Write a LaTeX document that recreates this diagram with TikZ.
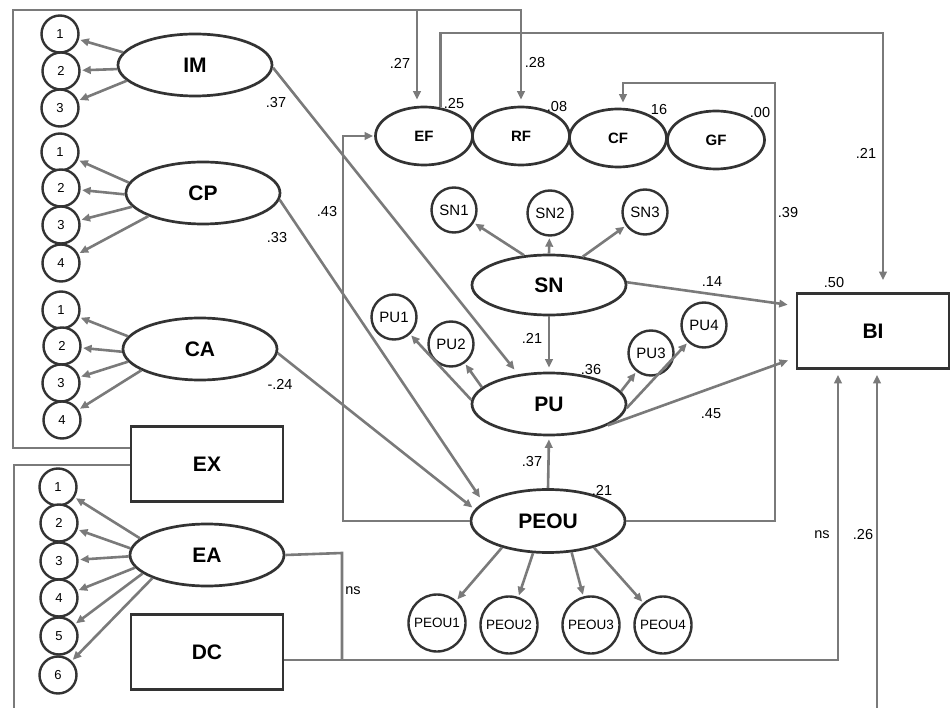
\documentclass[tikz,border=0pt]{standalone}
\usepackage{fontspec}
\setmainfont{Liberation Sans}
\usetikzlibrary{arrows.meta,shapes.geometric,calc}
\definecolor{edgegray}{HTML}{7A7A7A}
\definecolor{nodegray}{HTML}{333333}

\begin{document}
\begin{tikzpicture}[x=1pt,y=-1pt,
  lat/.style={ellipse,draw=nodegray,fill=white,line width=2.7pt,inner sep=0,
    minimum width=154pt,minimum height=62pt,font=\bfseries\fontsize{21}{23}\selectfont},
  fac/.style={ellipse,draw=nodegray,line width=2.7pt,inner sep=0,
    minimum width=97pt,minimum height=58pt,font=\bfseries\fontsize{15}{17}\selectfont},
  obs/.style={rectangle,draw=nodegray,fill=white,line width=2.7pt,inner sep=0,
    minimum width=152pt,minimum height=75pt,font=\bfseries\fontsize{21}{23}\selectfont},
  item/.style={circle,draw=nodegray,fill=white,line width=2.4pt,inner sep=0,
    minimum size=37pt,font=\fontsize{13}{15}\selectfont},
  ind/.style={circle,draw=nodegray,fill=white,line width=2.4pt,inner sep=0,
    minimum size=45pt,font=\fontsize{15}{17}\selectfont},
  pind/.style={circle,draw=nodegray,fill=white,line width=2.4pt,inner sep=0,
    minimum size=57pt,font=\fontsize{13.5}{15}\selectfont},
  conn/.style={draw=edgegray,line width=2.6pt},
  arr/.style={conn,-{Triangle[length=8.5pt,width=7.5pt]},shorten >=3pt},
  lbl/.style={font=\fontsize{14.5}{16}\selectfont,inner sep=0},
]
\useasboundingbox (0,0) rectangle (950,708);

% ---------- latent constructs ----------
\node[lat] (IM) at (195,65) {IM};
\node[lat] (CP) at (203,193) {CP};
\node[lat] (CA) at (200,349) {CA};
\node[lat] (EA) at (207,555) {EA};
\node[lat,minimum height=60pt] (SN) at (549,285) {SN};
\node[lat] (PU) at (549,404) {PU};
\node[lat,minimum height=63pt] (PEOU) at (548,521) {PEOU};

% ---------- observed variables ----------
\node[obs] (EX) at (207,464) {EX};
\node[obs] (DC) at (207,652) {DC};
\node[obs] (BI) at (873,331) {BI};

% ---------- facilitating factors ----------
\node[fac] (EF) at (424,136) {EF};
\node[fac] (RF) at (521,136) {RF};
\node[fac] (CF) at (618,138) {CF};
\node[fac] (GF) at (716,140) {GF};

% ---------- indicator items ----------
\node[item] (im1) at (60,34) {1};
\node[item] (im2) at (61,71) {2};
\node[item] (im3) at (60,108) {3};

\node[item] (cp1) at (60,152) {1};
\node[item] (cp2) at (61,188) {2};
\node[item] (cp3) at (61,225) {3};
\node[item] (cp4) at (61,263) {4};

\node[item] (ca1) at (61,310) {1};
\node[item] (ca2) at (62,346) {2};
\node[item] (ca3) at (61,383) {3};
\node[item] (ca4) at (62,420) {4};

\node[item] (ea1) at (58,487) {1};
\node[item] (ea2) at (59,523) {2};
\node[item] (ea3) at (59,561) {3};
\node[item] (ea4) at (59,598) {4};
\node[item] (ea5) at (59,636) {5};
\node[item] (ea6) at (58,675) {6};

\node[ind] (sn1) at (454,210) {SN1};
\node[ind] (sn2) at (550,213) {SN2};
\node[ind] (sn3) at (645,212) {SN3};

\node[ind] (pu1) at (394,317) {PU1};
\node[ind] (pu2) at (451,344) {PU2};
\node[ind] (pu3) at (651,353) {PU3};
\node[ind] (pu4) at (704,325) {PU4};

\node[pind] (pe1) at (437,623) {PEOU1};
\node[pind] (pe2) at (509,625) {PEOU2};
\node[pind] (pe3) at (591,625) {PEOU3};
\node[pind] (pe4) at (663,625) {PEOU4};

% ---------- measurement arrows ----------
\begin{scope}[every path/.style={arr,shorten >=1.5pt}]
\draw (IM.170) -- (im1);
\draw (IM.183) -- (im2);
\draw (IM.193) -- (im3);
\draw (CP.172) -- (cp1);
\draw (CP.181) -- (cp2);
\draw (CP.191) -- (cp3);
\draw (CP.203) -- (cp4);
\draw (CA.170) -- (ca1);
\draw (CA.182) -- (ca2);
\draw (CA.190) -- (ca3);
\draw (CA.200) -- (ca4);
\draw (EA.166) -- (ea1);
\draw (EA.175) -- (ea2);
\draw (EA.181) -- (ea3);
\draw (EA.190) -- (ea4);
\draw (EA.196) -- (ea5);
\draw (EA.203) -- (ea6);
\draw (SN.130) -- (sn1);
\draw (SN.north) -- (sn2);
\draw (SN.40) -- (sn3);
\draw (PU.177) -- (pu1);
\draw (PU.166) -- (pu2);
\draw (PU.10) -- (pu3);
\draw (PU.-3) -- (pu4);
\draw (PEOU.210) -- (pe1);
\draw (PEOU.245) -- (pe2);
\draw (PEOU.307) -- (pe3);
\draw (PEOU.330) -- (pe4);
\end{scope}

% ---------- structural paths ----------
\draw[arr,shorten >=6pt] (IM.-2) -- (PU.136);
\draw[arr,shorten >=6pt] (CP.-5) -- (PEOU.164);
\draw[arr,shorten >=3pt] (CA.-3) -- (PEOU.171);
\draw[arr,shorten >=4pt] (SN.south) -- (PU.north);
\draw[arr,shorten >=3pt] (PEOU.north) -- (PU.south);
\draw[arr,shorten >=8pt] (SN.2) -- (BI.162.5);
\draw[arr,shorten >=8pt] (PU.-20) -- (BI.199.6);

% EX to EF and RF over the top
\coordinate (exA) at (13,448);
\coordinate (exB) at (13,10);
\coordinate (efT) at (417,10);
\coordinate (rfT) at (521,10);
\draw[conn] (EX.west |- exA) -- (exA) -- (exB) -- (efT);
\draw[arr,shorten >=6pt] (efT) -- (rfT) -- (rfT |- RF.north);
\draw[arr,shorten >=6pt] (efT) -- (efT |- EF.north);

% EF to BI over the top
\coordinate (biT) at (883,33);
\draw[arr,shorten >=12pt] (EF.60) |- (biT) -- (biT |- BI.north);

% PEOU to EF on the left
\coordinate (efL) at (343,136);
\draw[arr,shorten >=1pt] (PEOU.west) -| (efL) -- (EF.west);

% PEOU to CF on the right
\coordinate (cfA) at (775,83);
\coordinate (cfB) at (623,83);
\draw[arr,shorten >=5pt] (PEOU.east) -| (cfA) -- (cfB) -- (cfB |- CF.north);

% DC and EA to BI
\coordinate (dcR) at (838,660);
\coordinate (eaR) at (342,553);
\draw[arr,shorten >=5pt] (DC.east |- dcR) -- (dcR) -- (dcR |- BI.south);
\draw[conn] (EA.east) -- (eaR) -- (eaR |- dcR);

% EX to BI along the bottom
\coordinate (exL) at (14,465);
\coordinate (exD) at (14,708);
\coordinate (biD) at (877,708);
\draw[conn] (EX.west |- exL) -- (exL) -- (exD);
\draw[arr,shorten >=5pt] (biD) -- (biD |- BI.south);

% ---------- coefficients ----------
\node[lbl] at (400,63) {.27};
\node[lbl] at (535,63) {.28};
\node[lbl] at (454,104) {.25};
\node[lbl] at (557,107) {.08};
\node[lbl] at (659,110) {16};
\node[lbl] at (760,113) {.00};
\node[lbl] at (866,153) {.21};
\node[lbl] at (788,213) {.39};
\node[lbl] at (276,103) {.37};
\node[lbl] at (327,212) {.43};
\node[lbl] at (277,238) {.33};
\node[lbl] at (280,384) {-.24};
\node[lbl] at (712,282) {.14};
\node[lbl] at (834,283) {.50};
\node[lbl] at (711,414) {.45};
\node[lbl] at (532,338) {.21};
\node[lbl] at (591,370) {.36};
\node[lbl] at (532,462) {.37};
\node[lbl] at (602,490) {.21};
\node[lbl] at (353,591) {ns};
\node[lbl] at (822,535) {ns};
\node[lbl] at (863,535) {.26};
\end{tikzpicture}
\end{document}
